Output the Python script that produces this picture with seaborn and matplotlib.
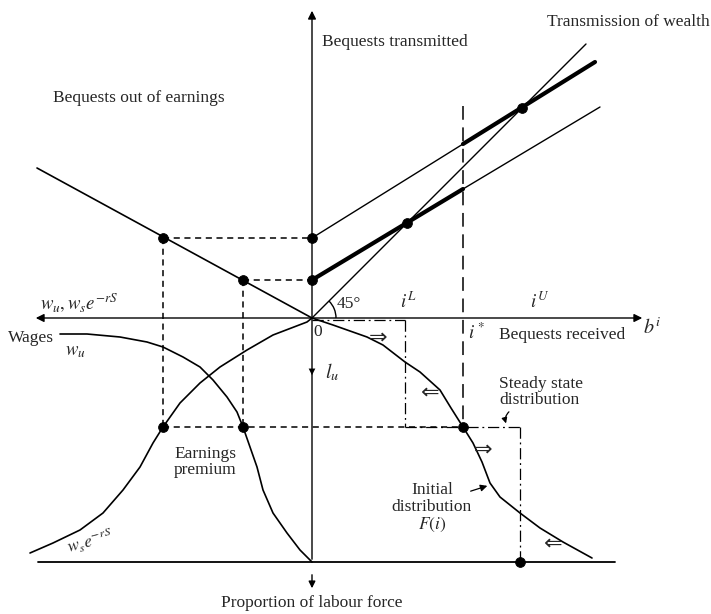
import matplotlib
matplotlib.use("Agg")
import matplotlib.pyplot as plt
import seaborn as sns
from matplotlib.patches import Arc

# diagram units: origin where the axes cross, 1 unit ~ 1 pixel
# wage curves (lower-left quadrant)
wu_x = [-252, -225, -192, -165, -149, -129, -112, -99, -85, -75, -69, -62, -55, -49, -39, -25, -12, 0]
wu_y = [-16, -16, -19, -24, -29, -39, -49, -62, -79, -94, -109, -129, -149, -172, -195, -215, -232, -244]
ws_x = [-282, -259, -232, -209, -189, -172, -159, -149, -132, -112, -92, -65, -39, -5, 0]
ws_y = [-235, -225, -212, -195, -172, -149, -125, -109, -85, -65, -49, -32, -17, -4, 0]

# initial distribution F(i) (lower-right quadrant)
f_x = [0, 21, 55, 71, 93, 108, 128, 139, 151, 161, 170, 178, 188, 208, 228, 251, 280]
f_y = [0, -7, -19, -27, -44, -54, -72, -90, -109, -125, -144, -165, -179, -195, -210, -224, -240]

# bequests out of earnings line
earn_x = [-275, 0]
earn_y = [150, 0]

# transmission of wealth
diag_x = [0, 274]
diag_y = [0, 274]
hi_thin_x, hi_thin_y = [0, 151], [80, 174]
hi_thick_x, hi_thick_y = [151, 283], [174, 256]
lo_thick_x, lo_thick_y = [0, 151], [38, 129]
lo_thin_x, lo_thin_y = [151, 288], [129, 211]

# key points
i_L, i_star, i_ss = 93, 151, 208
b_hi, b_lo = 80, 38
x_hi, x_lo = -149, -69
premium_y = -109
base_y = -244

dots_x = [x_hi, 0, x_lo, 0, x_hi, x_lo, 95, 210, i_star, i_ss]
dots_y = [b_hi, b_hi, b_lo, b_lo, premium_y, premium_y, 95, 210, premium_y, base_y]

sns.set_theme(style="white")
plt.rcParams["font.family"] = ["Liberation Serif", "DejaVu Sans"]
plt.rcParams["mathtext.fontset"] = "stix"

fig = plt.figure(figsize=(7.11, 6.14), dpi=100)
ax = fig.add_axes([0, 0, 1, 1])
ax.set_xlim(-312, 399)
ax.set_ylim(-296, 318)
ax.axis("off")

k = "black"
thin = 1.0

# axes with arrows
ax.annotate("", xy=(333, 0), xytext=(-279, 0),
            arrowprops=dict(arrowstyle="<|-|>", color=k, lw=thin, mutation_scale=12))
ax.annotate("", xy=(0, 310), xytext=(0, base_y),
            arrowprops=dict(arrowstyle="-|>", color=k, lw=thin, mutation_scale=12))
ax.annotate("", xy=(0, -60), xytext=(0, -40),
            arrowprops=dict(arrowstyle="-|>", color=k, lw=0, mutation_scale=12))
ax.annotate("", xy=(0, -273), xytext=(0, -254),
            arrowprops=dict(arrowstyle="-|>", color=k, lw=thin, mutation_scale=10))
ax.plot([-274, 303], [base_y, base_y], color=k, lw=1.3)

# curves
for cx, cy, w in [(wu_x, wu_y, 1.2), (ws_x, ws_y, 1.2), (f_x, f_y, 1.2),
                  (earn_x, earn_y, 1.2), (diag_x, diag_y, thin),
                  (hi_thin_x, hi_thin_y, thin), (hi_thick_x, hi_thick_y, 3.0),
                  (lo_thick_x, lo_thick_y, 3.0), (lo_thin_x, lo_thin_y, thin)]:
    sns.lineplot(x=cx, y=cy, ax=ax, color=k, lw=w, sort=False, estimator=None)

# dashed guides
dash = dict(color=k, lw=1.1, linestyle=(0, (4, 3)))
ax.plot([x_hi, 0], [b_hi, b_hi], **dash)
ax.plot([x_lo, 0], [b_lo, b_lo], **dash)
ax.plot([x_hi, x_hi], [b_hi, premium_y], **dash)
ax.plot([x_lo, x_lo], [b_lo, premium_y], **dash)
ax.plot([x_hi, i_star], [premium_y, premium_y], **dash)
ax.plot([i_star, i_star], [212, premium_y], color=k, lw=1.1, linestyle=(0, (9, 5)))

# steady state distribution (step)
dd = dict(color=k, lw=0.9, linestyle=(0, (9, 3, 1.5, 3)))
ax.plot([0, i_L], [-2, -2], **dd)
ax.plot([i_L, i_L], [-2, premium_y], **dd)
ax.plot([i_L, i_ss], [premium_y, premium_y], **dd)
ax.plot([i_ss, i_ss], [premium_y, base_y], **dd)

sns.scatterplot(x=dots_x, y=dots_y, ax=ax, color=k, s=50, edgecolor=k, zorder=5)

# 45 degree arc
ax.add_patch(Arc((0, 0), 48, 48, theta1=0, theta2=45, color=k, lw=thin))

fs = 12.5
ax.text(10, 276, "Bequests transmitted", fontsize=fs, va="center")
ax.text(235, 296, "Transmission of wealth", fontsize=fs, va="center")
ax.text(-259, 220, "Bequests out of earnings", fontsize=fs, va="center")
ax.text(25, 14, "45°", fontsize=fs, va="center")
ax.text(96, 16, r"$i^L$", fontsize=fs + 1, ha="center", va="center")
ax.text(228, 16, r"$i^U$", fontsize=fs + 1, ha="center", va="center")
ax.text(156, -15, r"$i^*$", fontsize=fs + 1, va="center")
ax.text(187, -17, "Bequests received", fontsize=fs, va="center")
ax.text(331, -11, r"$b^i$", fontsize=fs + 2, va="center")
ax.text(6, -14, "0", fontsize=fs, ha="center", va="center")
ax.text(13, -54, r"$l_u$", fontsize=fs + 2, va="center")
ax.text(-272, 15, r"$w_u, w_s e^{-rS}$", fontsize=fs + 1, va="center")
ax.text(-304, -20, "Wages", fontsize=fs, va="center")
ax.text(-247, -34, r"$w_u$", fontsize=fs + 1, va="center")
ax.text(-222, -224, r"$w_s e^{-rS}$", fontsize=fs, ha="center", va="center", rotation=15)
ax.text(-107, -144, "Earnings\npremium", fontsize=fs, ha="center", va="center",
        linespacing=1.0)
ax.text(187, -74, "Steady state\ndistribution", fontsize=fs, va="center", linespacing=1.0)
ax.text(120, -190, "Initial\ndistribution\n$F(i)$", fontsize=fs, ha="center",
        va="center", linespacing=1.05)
ax.text(0, -285, "Proportion of labour force", fontsize=fs, ha="center", va="center")

# small pointer arrows
ax.annotate("", xy=(195, -108), xytext=(199, -92),
            arrowprops=dict(arrowstyle="-|>", color=k, lw=0.9, mutation_scale=8,
                            connectionstyle="arc3,rad=0.4"))
ax.annotate("", xy=(178, -167), xytext=(156, -174),
            arrowprops=dict(arrowstyle="-|>", color=k, lw=0.9, mutation_scale=10))

# hollow movement arrows along F(i)
for ax_x, ax_y, s in [(66, -20, "⇒"), (118, -75, "⇐"), (171, -132, "⇒"), (241, -226, "⇐")]:
    ax.text(ax_x, ax_y, s, fontsize=16, family="DejaVu Sans", ha="center", va="center")

plt.savefig("out.png", dpi=100, facecolor="white")
